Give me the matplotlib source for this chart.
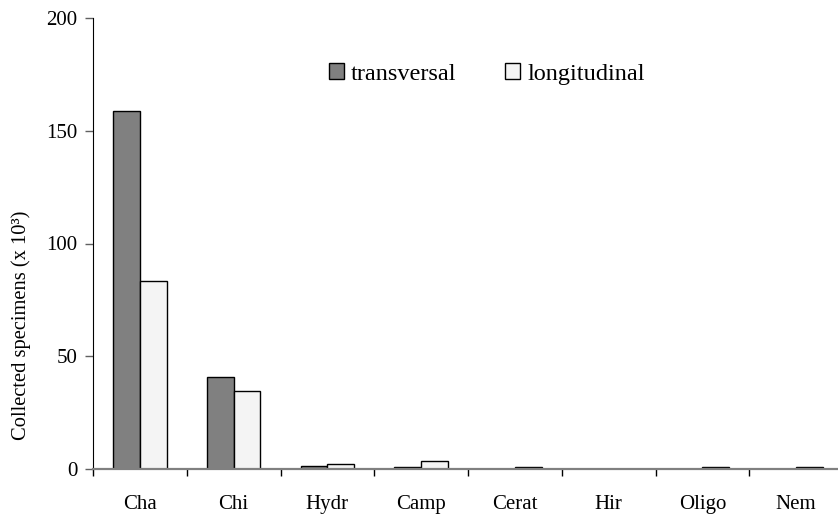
import numpy as np
import matplotlib
matplotlib.use("Agg")
import matplotlib.pyplot as plt

# data
groups = ["Cha", "Chi", "Hydr", "Camp", "Cerat", "Hir", "Oligo", "Nem"]
transversal = [158.9, 40.6, 1.4, 0.7, 0.0, 0.0, 0.0, 0.0]
longitudinal = [83.4, 34.5, 1.9, 3.6, 0.9, 0.0, 0.9, 0.9]
yticks = [0, 50, 100, 150, 200]

plt.rcParams['font.family'] = ['Liberation Serif', 'DejaVu Serif']

fig = plt.figure(figsize=(8.38, 5.16), dpi=100)
ax = fig.add_axes([93 / 838, 47.3 / 516, 750 / 838, 450.4 / 516])

x = np.arange(len(groups))
w = 0.286
t = np.array(transversal)
l = np.array(longitudinal)

ax.bar(x - w / 2, t, w, color="#808080", edgecolor="black",
       linewidth=np.where(t > 0, 1.0, 0.0), label="transversal")
ax.bar(x + w / 2, l, w, color="#f4f4f4", edgecolor="black",
       linewidth=np.where(l > 0, 1.0, 0.0), label="longitudinal")

ax.set_xlim(-0.5, len(groups) - 0.5)
ax.set_ylim(0, 200)
ax.set_yticks(yticks)
# category boundaries carry the tick marks, names sit in between
ax.set_xticks(np.arange(len(groups) + 1) - 0.5, minor=False)
ax.set_xticklabels([])
ax.set_xticks(x, minor=True)
ax.set_xticklabels(groups, minor=True)
ax.tick_params(axis="x", which="major", length=5, color="black", width=1)
ax.tick_params(axis="x", which="minor", length=0, labelsize=15, pad=19)
ax.tick_params(axis="y", length=6, color="#606060", width=1, labelsize=15, pad=5)

for s in ["top", "right"]:
    ax.spines[s].set_visible(False)
ax.spines["left"].set_color("black")
ax.spines["bottom"].set_color("#808080")
ax.spines["bottom"].set_linewidth(1.6)

ax.set_ylabel("Collected specimens (x 10³)", fontsize=14.8)
ax.yaxis.set_label_coords(-0.082, 0.318)

ax.legend(loc="center", bbox_to_anchor=(487 / 838, 1 - 74 / 516),
          bbox_transform=fig.transFigure, ncol=2, frameon=False,
          fontsize=17.5, handlelength=0.6, handleheight=0.6,
          handletextpad=0.3, columnspacing=2.0)

fig.savefig("out.png", dpi=100)
